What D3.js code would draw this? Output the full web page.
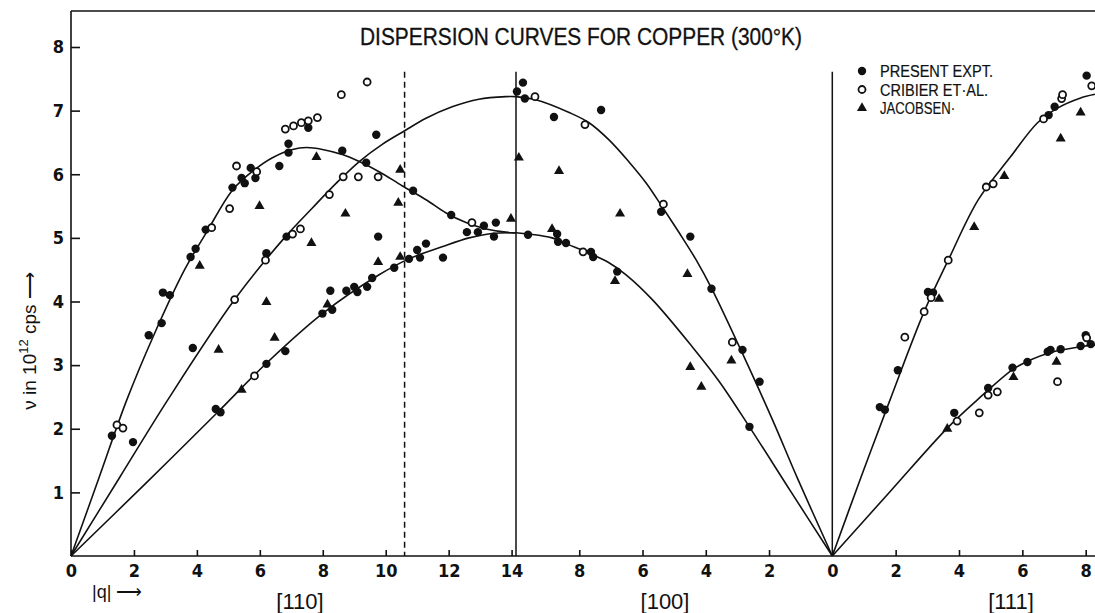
<!DOCTYPE html>
<html><head><meta charset="utf-8">
<script src="https://cdn.jsdelivr.net/npm/d3@7"></script>
<style>body{margin:0;background:#fff}svg{display:block}</style>
</head><body><svg id="c" width="1095" height="613"></svg>
<script>
// ---------- data ----------
const titleText = "DISPERSION CURVES FOR COPPER (300°K)";
const sectionLabels = ["[110]", "[100]", "[111]"];
const legendLabels = ["PRESENT EXPT.", "CRIBIER ET·AL.", "JACOBSEN·"];
const yTicks = [1, 2, 3, 4, 5, 6, 7, 8];
const xTicks110 = [0, 2, 4, 6, 8, 10, 12, 14];
const xTicks100 = [8, 6, 4, 2, 0];
const xTicks111 = [2, 4, 6, 8];
const zoneLines = [{dir: "110", q: 10.6, dash: true}, {dir: "110", q: 14.14, dash: false}, {dir: "111", q: 0, dash: false}];
const zoneLineTop = 7.61;

// smooth curves [q, nu] for each direction
const curve110L = [[0,0],[0.89,1.23],[1.77,2.45],[2.63,3.47],[3.61,4.50],[4.31,5.09],[5.13,5.75],[5.83,6.07],[6.40,6.26],[7.04,6.39],[7.48,6.42],[7.99,6.39],[8.62,6.31],[9.16,6.20],[9.79,6.04],[10.52,5.82],[11.28,5.60],[11.92,5.39],[12.55,5.24],[13.19,5.14],[14.01,5.08],[14.14,5.08]];
const curve110T1 = [[0,0],[1.54,1.23],[3.07,2.45],[5.20,4.03],[6.78,5.00],[7.67,5.47],[8.43,5.86],[9.16,6.20],[9.89,6.47],[10.59,6.68],[11.28,6.88],[12.11,7.06],[12.96,7.18],[13.82,7.22],[14.14,7.22]];
const curve110T2 = [[0,0],[2.35,1.13],[4.66,2.26],[6.21,3.03],[7.99,3.81],[9.79,4.42],[10.74,4.67],[11.79,4.86],[12.65,5.00],[13.38,5.07],[14.14,5.08]];
const curve100L = [[10,7.22],[9.37,7.17],[8.32,6.97],[7.69,6.81],[7.06,6.54],[6.42,6.19],[5.88,5.86],[5.38,5.49],[4.84,5.08],[4.30,4.65],[3.82,4.21],[2.94,3.29],[1.89,2.14],[1.10,1.22],[0,0]];
const curve100T = [[10,5.08],[9.59,5.06],[8.86,5.00],[8.32,4.89],[7.69,4.76],[7.06,4.61],[6.52,4.42],[5.69,4.03],[4.43,3.29],[3.57,2.74],[2.62,2.03],[1.32,1.02],[0,0]];
const curve111L = [[0,0],[0.90,1.23],[1.82,2.45],[2.90,3.84],[3.66,4.65],[4.61,5.60],[5.62,6.27],[6.48,6.81],[7.11,7.04],[7.84,7.20],[8.32,7.26],[8.66,7.29]];
const curve111T = [[0,0],[1.82,1.01],[3.63,2.01],[4.57,2.45],[5.69,2.93],[6.16,3.06],[6.89,3.20],[7.84,3.29],[8.32,3.32],[8.66,3.33]];

// measured points [q, nu]
const present110 = [[1.30,1.89],[1.97,1.79],[2.47,3.47],[2.88,3.66],[2.92,4.14],[3.14,4.10],[3.80,4.70],[3.96,4.83],[4.28,5.13],[3.87,3.27],[4.60,2.31],[4.75,2.26],[5.13,5.79],[5.42,5.94],[5.52,5.86],[5.71,6.10],[5.86,5.94],[6.62,6.13],[6.91,6.48],[6.91,6.34],[7.54,6.73],[8.62,6.37],[9.38,6.18],[9.70,6.62],[10.87,5.74],[12.08,5.36],[6.21,4.76],[6.85,5.02],[9.76,5.02],[6.21,3.02],[6.81,3.22],[7.99,3.81],[8.24,4.17],[8.30,3.87],[8.75,4.17],[9.00,4.23],[9.10,4.15],[9.41,4.23],[9.57,4.37],[10.27,4.53],[10.74,4.67],[11.00,4.81],[11.09,4.69],[11.28,4.91],[11.82,4.69],[12.58,5.09],[12.93,5.09],[13.12,5.19],[13.50,5.24],[13.44,5.02]];
const cribier110 = [[1.46,2.06],[1.65,2.01],[4.47,5.16],[5.04,5.46],[5.26,6.13],[5.90,6.04],[5.83,2.83],[6.18,4.65],[5.20,4.03],[7.04,5.06],[7.29,5.14],[6.81,6.71],[7.07,6.76],[7.32,6.81],[7.54,6.84],[7.83,6.89],[8.59,7.25],[9.41,7.45],[8.21,5.68],[8.65,5.96],[9.13,5.96],[9.76,5.96],[12.74,5.24]];
const jacobsen110 = [[4.09,4.56],[4.69,3.24],[5.42,2.61],[5.99,5.50],[6.47,3.43],[6.21,3.99],[7.80,6.27],[7.64,4.92],[8.72,5.38],[8.15,3.95],[9.76,4.62],[10.46,6.07],[10.40,5.55],[10.46,4.70],[13.98,5.30]];
const present100 = [[9.97,7.30],[9.78,7.44],[9.72,7.19],[8.80,6.90],[7.31,7.01],[5.41,5.41],[4.49,5.02],[3.82,4.20],[9.62,5.05],[8.70,5.06],[8.67,4.94],[8.42,4.92],[7.63,4.78],[7.56,4.70],[6.80,4.47],[2.84,3.24],[2.30,2.74],[2.62,2.03]];
const cribier100 = [[9.40,7.22],[7.82,6.78],[5.34,5.53],[7.88,4.78],[3.16,3.36]];
const jacobsen100 = [[9.91,6.26],[8.64,6.05],[6.71,5.38],[8.86,5.14],[6.87,4.32],[4.58,4.43],[4.49,2.97],[4.14,2.66],[3.19,3.07]];
const present111 = [[1.50,2.34],[1.66,2.30],[2.07,2.92],[3.02,4.15],[3.18,4.14],[3.85,2.25],[4.92,2.64],[5.69,2.96],[6.16,3.05],[6.80,3.21],[6.89,3.24],[7.21,3.25],[7.84,3.30],[8.00,3.47],[8.16,3.33],[7.02,7.06],[6.83,6.93],[8.03,7.55]];
const cribier111 = [[2.29,3.44],[2.90,3.84],[3.12,4.06],[3.66,4.65],[4.86,5.80],[5.08,5.85],[6.67,6.87],[7.24,7.19],[7.27,7.25],[8.19,7.39],[3.94,2.12],[4.64,2.25],[4.92,2.53],[5.21,2.58],[7.11,2.74],[8.03,3.43]];
const jacobsen111 = [[3.37,4.04],[4.48,5.17],[5.43,5.97],[7.21,6.56],[7.84,6.97],[3.63,2.00],[5.72,2.81],[7.08,3.05]];

// ---------- chart ----------
const svg = d3.select("#c");
const W = 1095, H = 613;
const L0 = 14.14, L1 = 24.14; // path positions of X and Gamma
function pos(dir, q) { return dir === "110" ? q : dir === "100" ? L1 - q : L1 + q; }

const x = d3.scaleLinear().domain([0, L0, L1, L1 + 8]).range([71, 516, 832.3, 1085.7]);
const y = d3.scaleLinear().domain([0, 8]).range([556, 47]);
const yTop = 11;
const numFont = "'Liberation Sans Narrow','DejaVu Sans Condensed','Roboto Condensed',sans-serif";
const txtFont = "'Liberation Sans','Arial',sans-serif";

// frame
svg.append("line").attr("x1", x(0)).attr("x2", W).attr("y1", yTop).attr("y2", yTop).attr("stroke", "#111").attr("stroke-width", 1.6);
svg.append("line").attr("x1", x(0)).attr("x2", x(0)).attr("y1", yTop).attr("y2", y(0)).attr("stroke", "#111").attr("stroke-width", 1.6);

// x axis
const xTickPos = [].concat(
  xTicks110.map(q => ({s: pos("110", q), t: q})),
  xTicks100.map(q => ({s: pos("100", q), t: q})),
  xTicks111.map(q => ({s: pos("111", q), t: q}))
);
const xAxis = d3.axisBottom(x).tickValues(xTickPos.map(d => d.s))
  .tickFormat((v, i) => xTickPos[i].t).tickSizeInner(-6).tickSizeOuter(0).tickPadding(8);
const gx = svg.append("g").attr("transform", `translate(0,${y(0)})`).call(xAxis);
gx.select(".domain").attr("d", `M${x(0)},0H${W}`).attr("stroke", "#111").attr("stroke-width", 1.6);
gx.selectAll(".tick line").attr("stroke", "#111").attr("stroke-width", 1.6);
gx.selectAll(".tick text").attr("font-family", numFont).attr("font-weight", "bold").attr("font-size", 18).attr("fill", "#111");

// y axis
const yAxis = d3.axisLeft(y).tickValues(yTicks).tickSizeInner(-9).tickSizeOuter(0).tickPadding(7);
const gy = svg.append("g").attr("transform", `translate(${x(0)},0)`).call(yAxis);
gy.select(".domain").remove();
gy.selectAll(".tick line").attr("stroke", "#111").attr("stroke-width", 1.6);
gy.selectAll(".tick text").attr("font-family", numFont).attr("font-weight", "bold").attr("font-size", 18).attr("fill", "#111");

// zone boundary lines
zoneLines.forEach(z => {
  svg.append("line").attr("x1", x(pos(z.dir, z.q))).attr("x2", x(pos(z.dir, z.q)))
    .attr("y1", y(zoneLineTop)).attr("y2", y(0))
    .attr("stroke", "#111").attr("stroke-width", 1.5)
    .attr("stroke-dasharray", z.dash ? "6,4" : null);
});

// curves
const line = dir => d3.line().curve(d3.curveCatmullRom.alpha(0.5))
  .x(d => x(pos(dir, d[0]))).y(d => y(d[1]));
[["110", curve110L], ["110", curve110T1], ["110", curve110T2], ["100", curve100L], ["100", curve100T], ["111", curve111L], ["111", curve111T]]
  .forEach(([dir, c]) => svg.append("path").attr("d", line(dir)(c)).attr("fill", "none").attr("stroke", "#111").attr("stroke-width", 1.6));

// markers
function drawMarker(g, kind, cx, cy) {
  if (kind === 0) g.append("circle").attr("cx", cx).attr("cy", cy).attr("r", 4.2).attr("fill", "#111");
  else if (kind === 1) g.append("circle").attr("cx", cx).attr("cy", cy).attr("r", 3.5).attr("fill", "#fff").attr("stroke", "#111").attr("stroke-width", 1.8);
  else g.append("path").attr("d", d3.symbol(d3.symbolTriangle, 44)()).attr("transform", `translate(${cx},${cy})`).attr("fill", "#111");
}
const gm = svg.append("g");
[[present110, "110", 0], [cribier110, "110", 1], [jacobsen110, "110", 2],
 [present100, "100", 0], [cribier100, "100", 1], [jacobsen100, "100", 2],
 [present111, "111", 0], [cribier111, "111", 1], [jacobsen111, "111", 2]]
  .forEach(([pts, dir, k]) => pts.forEach(d => drawMarker(gm, k, x(pos(dir, d[0])), y(d[1]))));

// title
svg.append("text").attr("x", 360).attr("y", 45).attr("font-family", txtFont)
  .attr("font-size", 23).attr("stroke", "#111").attr("stroke-width", 0.3)
  .attr("textLength", 442).attr("lengthAdjust", "spacingAndGlyphs").attr("fill", "#111").text(titleText);

// legend
const lg = svg.append("g");
legendLabels.forEach((t, i) => {
  const ly = 71 + i * 18.5;
  drawMarker(lg, i, 862, ly);
  lg.append("text").attr("x", 880).attr("y", ly + 6).attr("font-family", txtFont)
    .attr("font-size", 16).attr("stroke", "#111").attr("stroke-width", 0.2)
    .attr("textLength", [113, 108, 75][i]).attr("lengthAdjust", "spacingAndGlyphs").attr("fill", "#111").text(t);
});

// section labels
const secCenters = [[sectionLabels[0], 300], [sectionLabels[1], 665], [sectionLabels[2], 1011]];
secCenters.forEach(([t, cx]) => svg.append("text").attr("x", cx).attr("y", 609).attr("text-anchor", "middle")
  .attr("font-family", txtFont).attr("font-size", 22).attr("fill", "#111").text(t));

// |q| label
svg.append("text").attr("x", 92).attr("y", 598).attr("font-family", txtFont)
  .attr("font-size", 18).attr("fill", "#111").text("|q| ⟶");

// y label
const yl = svg.append("text").attr("transform", "translate(36,341) rotate(-90)").attr("text-anchor", "middle")
  .attr("font-family", txtFont).attr("font-size", 19).attr("fill", "#111");
yl.append("tspan").text("ν  in 10");
yl.append("tspan").attr("dy", -8).attr("font-size", 13).text("12");
yl.append("tspan").attr("dy", 8).text(" cps ⟶");
</script></body></html>
